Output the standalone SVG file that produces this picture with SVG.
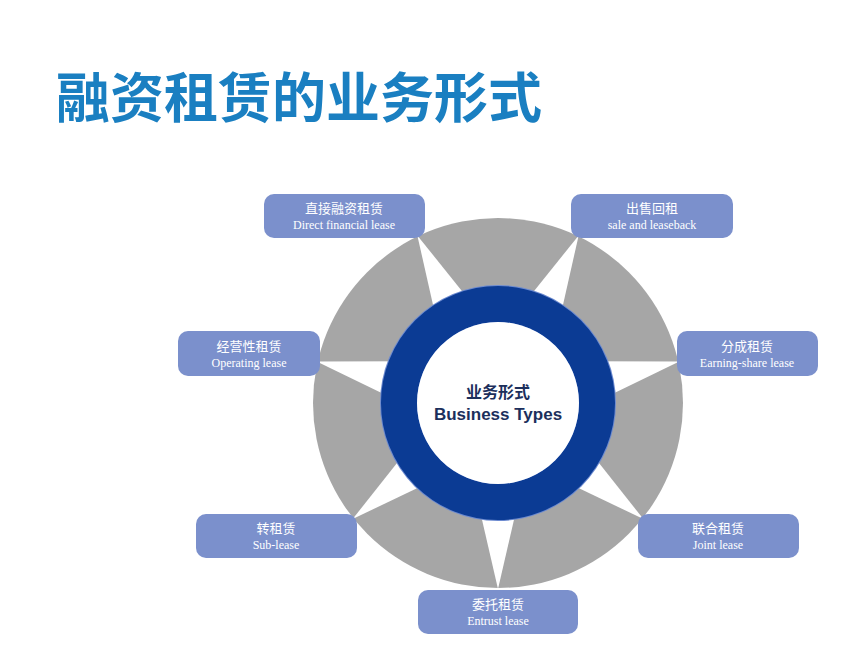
<svg xmlns="http://www.w3.org/2000/svg" width="863" height="653" viewBox="0 0 863 653">
<style>
.box{fill:#7b90cc}
.cn{font-family:"Noto Sans CJK SC",sans-serif;font-size:13px;fill:#fff;text-anchor:middle}
.en{font-family:"Liberation Serif",serif;font-size:12px;fill:#fff;text-anchor:middle}
</style>
<defs><polygon id="w" points="0,-186 -21,-95 21,-95" fill="#fff"/></defs>
<rect width="863" height="653" fill="#fff"/>
<text x="56" y="118" font-family="Noto Sans CJK SC,sans-serif" font-weight="bold" font-size="54" fill="#1a7fc1">融资租赁的业务形式</text>
<g id="wheel">
<circle cx="498" cy="403" r="185" fill="#a6a6a6"/>
<g transform="translate(498,403)">
<use href="#w" transform="rotate(-25.7)"/><use href="#w" transform="rotate(25.7)"/>
<use href="#w" transform="rotate(77.1)"/><use href="#w" transform="rotate(128.6)"/>
<use href="#w" transform="rotate(180)"/><use href="#w" transform="rotate(-128.6)"/>
<use href="#w" transform="rotate(-77.1)"/>
</g>
<circle cx="498" cy="403" r="118" fill="#6c8ad0"/>
<circle cx="498" cy="403" r="99" fill="none" stroke="#0b3b94" stroke-width="36"/>
<circle cx="498" cy="403" r="81" fill="#fff"/>
<text x="498" y="398" text-anchor="middle" font-family="Noto Sans CJK SC,sans-serif" font-size="16" font-weight="bold" fill="#1c2f5c">业务形式</text>
<text x="498" y="420" text-anchor="middle" font-family="Liberation Sans,sans-serif" font-size="17" font-weight="bold" fill="#1c2f5c">Business Types</text>
</g>
<g id="n1"><rect class="box" x="264" y="194" width="161" height="44" rx="10"/><text class="cn" x="344" y="213">直接融资租赁</text><text class="en" x="344" y="229">Direct financial lease</text></g>
<g id="n2"><rect class="box" x="571" y="194" width="162" height="44" rx="10"/><text class="cn" x="652" y="213">出售回租</text><text class="en" x="652" y="229">sale and leaseback</text></g>
<g id="n3"><rect class="box" x="178" y="331" width="142" height="45" rx="10"/><text class="cn" x="249" y="351">经营性租赁</text><text class="en" x="249" y="367">Operating lease</text></g>
<g id="n4"><rect class="box" x="677" y="331" width="141" height="45" rx="10"/><text class="cn" x="747" y="351">分成租赁</text><text class="en" x="747" y="367">Earning-share lease</text></g>
<g id="n5"><rect class="box" x="196" y="514" width="161" height="44" rx="10"/><text class="cn" x="276" y="533">转租赁</text><text class="en" x="276" y="549">Sub-lease</text></g>
<g id="n6"><rect class="box" x="638" y="514" width="161" height="44" rx="10"/><text class="cn" x="718" y="533">联合租赁</text><text class="en" x="718" y="549">Joint lease</text></g>
<g id="n7"><rect class="box" x="418" y="590" width="160" height="44" rx="10"/><text class="cn" x="498" y="609">委托租赁</text><text class="en" x="498" y="625">Entrust lease</text></g>
<g id="connectors"/>
</svg>
